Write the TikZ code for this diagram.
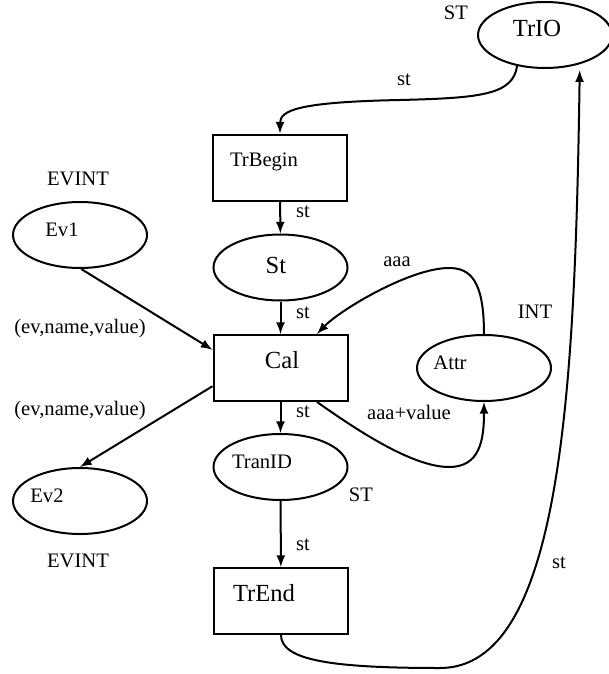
\documentclass[tikz,border=0pt]{standalone}
\usepackage{tikz}
\usepackage{xcolor}
\usepackage{fontspec}
\setmainfont{Liberation Serif}
\usetikzlibrary{shapes.geometric}

\begin{document}
\begin{tikzpicture}[x=0.5pt,y=-0.5pt]
  	  \tikzstyle{P}=[ellipse,line width=1pt,draw,minimum width=67pt,minimum height=33pt,inner sep=0pt]
    \tikzstyle{T}=[rectangle,line width=1pt,draw,minimum width=67pt,minimum height=33pt,inner sep=0pt]
    \tikzstyle{S}=[font=\fontsize{10.3}{12}\selectfont,inner sep=0pt]
    \tikzstyle{B}=[font=\fontsize{12.3}{14}\selectfont,inner sep=0pt]
    \tikzstyle{A}=[->,>=latex,line width=1pt]

    \useasboundingbox (0,0) rectangle (609,674);

    % places and transitions
    \node [P] (trio)    at (545, 35) {};
    \node [T] (trbegin) at (280, 167.5) {};
    \node [P] (ev1)     at (80, 235) {};
    \node [P] (st)      at (280.5, 267.5) {};
    \node [T] (cal)     at (280.5, 368) {};
    \node [P] (attr)    at (484, 368) {};
    \node [P] (tranid)  at (280.5, 467) {};
    \node [P] (ev2)     at (80, 501) {};
    \node [T] (trend)   at (281, 601) {};

    % names
    \node [B] (triot)    at (537, 28) {TrIO};
    \node [S] (trbegint) at (264, 162) {TrBegin};
    \node [S] (ev1t)     at (62, 230) {Ev1};
    \node [B] (stt)      at (276, 265) {St};
    \node [B] (calt)     at (282, 360) {Cal};
    \node [S] (attrt)    at (450, 363) {Attr};
    \node [S] (tranidt)  at (262, 462) {TranID};
    \node [S] (ev2t)     at (47, 496) {Ev2};
    \node [B] (trendt)   at (264, 593) {TrEnd};

    % types
    \node [S] (tytrio)   at (456, 13) {ST};
    \node [S] (tyev1)    at (78, 179) {EVINT};
    \node [S] (tyattr)   at (535, 312) {INT};
    \node [S] (tytranid) at (361, 495) {ST};
    \node [S] (tyev2)    at (78, 561) {EVINT};

    % arcs
    \coordinate (c1) at (400, 100);
    \coordinate (c2) at (449, 268);
    \coordinate (c3) at (449, 467);
    \coordinate (c4) at (440, 668);
    \draw [A] (trio.228) .. controls (513, 95) and (480, 98) .. (c1)
        .. controls (300, 102) and (280, 110) .. (trbegin.north);
    \draw [A] (trbegin) -- (st);
    \draw [A] (st) -- (cal);
    \draw [A] (ev1.-88) -- (cal.165);
    \draw [A] (cal.195) -- (ev2.north);
    \draw [A] (cal) -- (tranid);
    \draw [A] (tranid) -- (trend);
    \draw [A] (attr.north) .. controls (484, 280) and (470, 268) .. (c2)
        .. controls (410, 268) and (340, 310) .. (cal.43);
    \draw [A] (cal.-43) .. controls (350, 425) and (410, 467) .. (c3)
        .. controls (480, 467) and (484, 440) .. (attr.south);
    \draw [A,shorten >=3pt] (trend.south) .. controls (281, 660) and (330, 668) .. (c4)
        .. controls (560, 668) and (575, 400) .. (trio.-40);

    % inscriptions
    \node [S] (l1)  at (404, 80) {st};
    \node [S] (l2)  at (303, 212) {st};
    \node [S] (l3)  at (397, 262) {aaa};
    \node [S] (l4)  at (303, 313) {st};
    \node [S] (l5)  at (80, 329) {(ev,name,value)};
    \node [S] (l6)  at (80, 411) {(ev,name,value)};
    \node [S] (l7)  at (303, 412) {st};
    \node [S] (l8)  at (409, 412) {aaa+value};
    \node [S] (l9)  at (303, 545) {st};
    \node [S] (l10) at (559, 563) {st};
  	  \end{tikzpicture}
\end{document}
